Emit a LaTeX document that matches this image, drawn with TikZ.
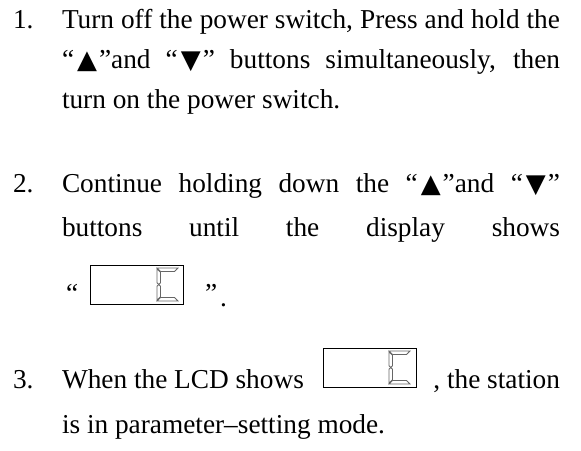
\documentclass[tikz,border=0pt]{standalone}
\usepackage{fontspec}
\setmainfont{Liberation Serif}
\newfontfamily\symf{DejaVu Sans}[Scale=0.95]
\newcommand{\up}{{\symf ▲}}
\newcommand{\dn}{{\symf ▼}}
\newcommand{\qo}{“\kern3pt}
\newcommand{\qc}{\kern2pt”}
\begin{document}
\begin{tikzpicture}[x=1pt,y=-1pt,
  txt/.style={anchor=base west, inner sep=0pt, outer sep=0pt, font=\fontsize{27.3}{31}\selectfont},
  lcdbox/.style={draw=black, line width=0.8pt, minimum width=93pt, minimum height=39pt, inner sep=0pt, anchor=north west},
  seg/.style={draw=black!60, fill=white, line width=0.8pt, line join=miter},
  lcdc/.pic={
    \draw[seg] (0,0) -- (21,0) -- (17.5,3.5) -- (3.5,3.5) -- cycle;
    \draw[seg] (0,0.7) -- (3.5,4.2) -- (3.5,14.8) -- (1.75,16.5) -- (0,14.8) -- cycle;
    \draw[seg] (0,18.2) -- (1.75,16.5) -- (3.5,18.2) -- (3.5,28.8) -- (0,32.3) -- cycle;
    \draw[seg] (0,33) -- (21,33) -- (17.5,29.5) -- (3.5,29.5) -- cycle;
  }]
\useasboundingbox (0,0) rectangle (581,450);
\def\tw{498pt}
% item 1
\node[txt] (n1) at (13,28) {1.};
\node[txt] (a1) at (62,28) {\makebox[\tw][s]{Turn off the power switch, Press and hold the}};
\node[txt] (a2) at (62,68) {\makebox[\tw][s]{\qo\up\qc and \qo\dn\qc{} buttons simultaneously, then}};
\node[txt] (a3) at (62,108) {turn on the power switch.};
% item 2
\node[txt] (n2) at (13,192) {2.};
\node[txt] (b1) at (62,192) {\makebox[\tw][s]{Continue holding down the \qo\up\qc and \qo\dn\qc}};
\node[txt] (b2) at (62,236) {\makebox[\tw][s]{buttons until the display shows}};
\node[txt] (b3o) at (66,302) {“};
\node[lcdbox] (box1) at (90,265) {};
\pic at (157,268) {lcdc};
\node[txt] (b3c) at (205,302) {”};
\node[txt] (b3d) at (220,306) {.};
% item 3
\node[txt] (n3) at (13,388) {3.};
\node[txt] (c1) at (62,388) {When the LCD shows};
\node[lcdbox] (box2) at (323,348) {};
\pic at (389,351) {lcdc};
\node[txt, anchor=base east] (c1b) at (560,388) {, the station};
\node[txt] (c2) at (62,433) {is in parameter–setting mode.};
\end{tikzpicture}
\end{document}
